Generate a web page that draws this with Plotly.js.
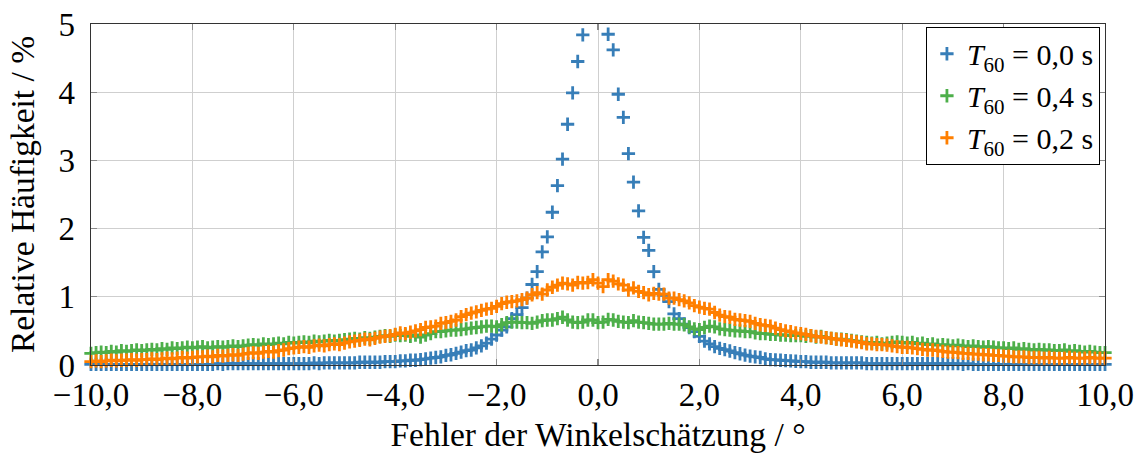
<!DOCTYPE html>
<html>
<head>
<meta charset="utf-8">
<script src="https://cdn.plot.ly/plotly-3.0.1.min.js"></script>
<style>
html,body{margin:0;padding:0;background:#fff;}
#chart{width:1139px;height:453px;}
</style>
</head>
<body>
<div id="chart"></div>
<script>
// Bin centres of the angle error (degrees)
const errorDeg = [
-10.0,-9.9,-9.8,-9.7,-9.6,-9.5,-9.4,-9.3,-9.2,-9.1,-9.0,
-8.9,-8.8,-8.7,-8.6,-8.5,-8.4,-8.3,-8.2,-8.1,-8.0,
-7.9,-7.8,-7.7,-7.6,-7.5,-7.4,-7.3,-7.2,-7.1,-7.0,
-6.9,-6.8,-6.7,-6.6,-6.5,-6.4,-6.3,-6.2,-6.1,-6.0,
-5.9,-5.8,-5.7,-5.6,-5.5,-5.4,-5.3,-5.2,-5.1,-5.0,
-4.9,-4.8,-4.7,-4.6,-4.5,-4.4,-4.3,-4.2,-4.1,-4.0,
-3.9,-3.8,-3.7,-3.6,-3.5,-3.4,-3.3,-3.2,-3.1,-3.0,
-2.9,-2.8,-2.7,-2.6,-2.5,-2.4,-2.3,-2.2,-2.1,-2.0,
-1.9,-1.8,-1.7,-1.6,-1.5,-1.4,-1.3,-1.2,-1.1,-1.0,
-0.9,-0.8,-0.7,-0.6,-0.5,-0.4,-0.3,-0.2,-0.1,0.0,
0.1,0.2,0.3,0.4,0.5,0.6,0.7,0.8,0.9,1.0,
1.1,1.2,1.3,1.4,1.5,1.6,1.7,1.8,1.9,2.0,
2.1,2.2,2.3,2.4,2.5,2.6,2.7,2.8,2.9,3.0,
3.1,3.2,3.3,3.4,3.5,3.6,3.7,3.8,3.9,4.0,
4.1,4.2,4.3,4.4,4.5,4.6,4.7,4.8,4.9,5.0,
5.1,5.2,5.3,5.4,5.5,5.6,5.7,5.8,5.9,6.0,
6.1,6.2,6.3,6.4,6.5,6.6,6.7,6.8,6.9,7.0,
7.1,7.2,7.3,7.4,7.5,7.6,7.7,7.8,7.9,8.0,
8.1,8.2,8.3,8.4,8.5,8.6,8.7,8.8,8.9,9.0,
9.1,9.2,9.3,9.4,9.5,9.6,9.7,9.8,9.9,10.0
];

// Relative frequency (%) for T60 = 0,0 s
const freqT00 = [
0.01,0.01,0.01,0.01,0.01,0.01,0.01,0.01,0.01,0.01,0.01,
0.01,0.01,0.01,0.01,0.01,0.01,0.01,0.01,0.01,0.01,
0.01,0.01,0.01,0.01,0.02,0.01,0.02,0.02,0.02,0.02,
0.02,0.02,0.02,0.02,0.02,0.02,0.02,0.02,0.02,0.02,
0.02,0.02,0.02,0.03,0.02,0.03,0.03,0.03,0.03,0.03,
0.03,0.03,0.04,0.04,0.04,0.04,0.04,0.05,0.05,0.05,
0.06,0.06,0.07,0.07,0.08,0.09,0.10,0.11,0.12,0.14,
0.15,0.17,0.19,0.21,0.22,0.25,0.28,0.32,0.38,0.44,
0.51,0.56,0.68,0.74,0.84,0.98,1.18,1.37,1.66,1.88,
2.24,2.63,3.02,3.53,3.99,4.45,4.84,5.30,5.70,5.60,
5.20,4.85,4.62,3.97,3.63,3.10,2.68,2.26,1.87,1.68,
1.37,1.11,1.02,0.93,0.75,0.68,0.60,0.55,0.49,0.42,
0.35,0.31,0.27,0.245,0.225,0.205,0.18,0.165,0.145,0.13,
0.12,0.11,0.09,0.08,0.075,0.07,0.065,0.06,0.055,0.05,
0.05,0.04,0.04,0.04,0.04,0.03,0.03,0.03,0.03,0.03,
0.03,0.03,0.02,0.02,0.02,0.02,0.02,0.02,0.02,0.02,
0.02,0.02,0.02,0.02,0.02,0.02,0.02,0.02,0.02,0.02,
0.02,0.01,0.02,0.01,0.01,0.01,0.01,0.01,0.01,0.01,
0.01,0.01,0.01,0.01,0.01,0.01,0.01,0.01,0.01,0.01,
0.01,0.01,0.01,0.01,0.01,0.01,0.01,0.01,0.01,0.01
];

// Relative frequency (%) for T60 = 0,4 s
const freqT04 = [
0.17,0.18,0.19,0.18,0.20,0.19,0.21,0.20,0.21,0.22,0.21,
0.22,0.23,0.22,0.24,0.23,0.25,0.24,0.25,0.26,0.25,
0.26,0.27,0.25,0.26,0.27,0.26,0.27,0.28,0.27,0.28,
0.29,0.30,0.29,0.31,0.30,0.31,0.32,0.31,0.33,0.32,
0.33,0.34,0.33,0.35,0.34,0.35,0.36,0.35,0.36,0.37,
0.38,0.39,0.38,0.40,0.39,0.41,0.42,0.43,0.42,0.44,
0.43,0.44,0.42,0.44,0.41,0.44,0.46,0.49,0.49,0.50,
0.51,0.51,0.52,0.53,0.54,0.55,0.56,0.57,0.57,0.56,
0.59,0.62,0.63,0.63,0.62,0.62,0.61,0.63,0.65,0.66,
0.66,0.68,0.70,0.66,0.63,0.62,0.63,0.66,0.66,0.62,
0.63,0.67,0.66,0.64,0.63,0.62,0.65,0.63,0.62,0.61,
0.60,0.60,0.60,0.61,0.60,0.60,0.59,0.56,0.53,0.52,
0.55,0.57,0.56,0.53,0.52,0.51,0.50,0.50,0.49,0.49,
0.47,0.46,0.46,0.45,0.45,0.44,0.44,0.43,0.43,0.43,
0.42,0.43,0.41,0.42,0.40,0.39,0.38,0.38,0.37,0.36,
0.35,0.34,0.33,0.32,0.33,0.31,0.32,0.33,0.34,0.33,
0.32,0.33,0.31,0.32,0.30,0.31,0.29,0.30,0.29,0.28,
0.29,0.28,0.27,0.28,0.27,0.26,0.27,0.26,0.25,0.25,
0.24,0.25,0.23,0.24,0.23,0.22,0.23,0.22,0.22,0.21,
0.21,0.22,0.20,0.21,0.20,0.19,0.20,0.19,0.18,0.18
];

// Relative frequency (%) for T60 = 0,2 s
const freqT02 = [
0.05,0.06,0.05,0.06,0.07,0.06,0.07,0.07,0.08,0.07,0.08,
0.08,0.09,0.08,0.09,0.10,0.09,0.10,0.11,0.10,0.11,
0.12,0.12,0.13,0.12,0.14,0.13,0.14,0.15,0.14,0.16,
0.17,0.18,0.17,0.19,0.20,0.19,0.21,0.22,0.24,0.25,
0.26,0.27,0.26,0.28,0.29,0.28,0.30,0.31,0.30,0.32,
0.34,0.35,0.36,0.38,0.37,0.39,0.41,0.42,0.43,0.45,
0.47,0.46,0.48,0.50,0.52,0.55,0.56,0.57,0.61,0.62,
0.64,0.66,0.71,0.74,0.76,0.78,0.80,0.82,0.83,0.86,
0.90,0.92,0.93,0.94,0.96,0.98,1.03,1.06,1.04,1.10,
1.14,1.17,1.20,1.19,1.17,1.21,1.20,1.21,1.25,1.20,
1.15,1.25,1.23,1.19,1.17,1.10,1.13,1.08,1.06,1.03,
1.05,1.04,1.04,0.98,0.98,0.96,0.94,0.91,0.87,0.85,
0.83,0.82,0.77,0.73,0.71,0.70,0.67,0.66,0.65,0.64,
0.61,0.59,0.58,0.57,0.54,0.52,0.50,0.49,0.47,0.46,
0.45,0.43,0.42,0.41,0.40,0.39,0.38,0.37,0.36,0.35,
0.34,0.33,0.31,0.31,0.30,0.30,0.29,0.28,0.27,0.26,
0.26,0.25,0.24,0.23,0.22,0.22,0.21,0.20,0.19,0.19,
0.18,0.17,0.17,0.16,0.16,0.15,0.15,0.14,0.14,0.13,
0.13,0.12,0.12,0.12,0.11,0.11,0.11,0.10,0.11,0.10,
0.10,0.10,0.11,0.10,0.10,0.10,0.11,0.10,0.10,0.10
];

const seriesNames = [
  '<i>T</i><sub>60</sub> = 0,0 s',
  '<i>T</i><sub>60</sub> = 0,4 s',
  '<i>T</i><sub>60</sub> = 0,2 s'
];
const seriesColors = ['#377eb8', '#4daf4a', '#ff7f00'];
const xTitle = 'Fehler der Winkelschätzung / °';
const yTitle = 'Relative Häufigkeit / %';
const xRange = [-10, 10];
const yRange = [0, 5];

// points above the axis limit are cut off by the axis (as in the original)
const inRange = arr => arr.map(v => (v > yRange[1] ? null : v));

const seriesValues = [freqT00, freqT04, freqT02];
const traces = seriesValues.map((vals, k) => ({
  type: 'scatter',
  mode: 'markers',
  x: errorDeg,
  y: inRange(vals),
  name: seriesNames[k],
  cliponaxis: false,
  marker: {
    symbol: 'cross-thin',
    size: 9.5,
    color: seriesColors[k],
    line: {color: seriesColors[k], width: 2.8}
  }
}));

const FONT = 'Liberation Serif';
const TICK_FS = 33;
const TITLE_FS = 33.5;
const LEG_FS = 30;
const layout = {
  width: 1139,
  height: 453,
  margin: {l: 91, r: 34, t: 24, b: 88},
  paper_bgcolor: '#ffffff',
  plot_bgcolor: '#ffffff',
  separators: ',.',
  font: {family: FONT, size: TICK_FS, color: '#000'},
  showlegend: true,
  legend: {
    x: 0.995, xanchor: 'right',
    y: 0.992, yanchor: 'top',
    bgcolor: '#ffffff',
    bordercolor: '#000000',
    borderwidth: 1,
    font: {family: FONT, size: LEG_FS, color: '#000'},
    itemwidth: 30,
    tracegroupgap: 0
  },
  xaxis: {
    range: xRange,
    dtick: 2,
    tick0: 0,
    tickformat: '.1f',
    showgrid: true,
    gridcolor: '#cfcfcf',
    gridwidth: 1,
    zeroline: false,
    showline: true,
    linecolor: '#333333',
    linewidth: 1.3,
    mirror: 'ticks',
    ticks: 'inside',
    ticklen: 6,
    tickwidth: 1.3,
    tickcolor: '#8a8a8a',
    tickfont: {family: FONT, size: TICK_FS, color: '#000'},
    title: {text: xTitle, font: {family: FONT, size: TITLE_FS, color: '#000'}, standoff: 12},
    automargin: false
  },
  yaxis: {
    range: yRange,
    dtick: 1,
    tick0: 0,
    tickformat: 'd',
    showgrid: true,
    gridcolor: '#cfcfcf',
    gridwidth: 1,
    zeroline: false,
    showline: true,
    linecolor: '#333333',
    linewidth: 1.3,
    mirror: 'ticks',
    ticks: 'inside',
    ticklen: 6,
    tickwidth: 1.3,
    tickcolor: '#8a8a8a',
    ticklabelstandoff: 8,
    tickfont: {family: FONT, size: TICK_FS, color: '#000'},
    title: {text: yTitle, font: {family: FONT, size: TITLE_FS, color: '#000'}, standoff: 14},
    automargin: false
  }
};

Plotly.newPlot('chart', traces, layout, {displayModeBar: false, staticPlot: true});
</script>
</body>
</html>
